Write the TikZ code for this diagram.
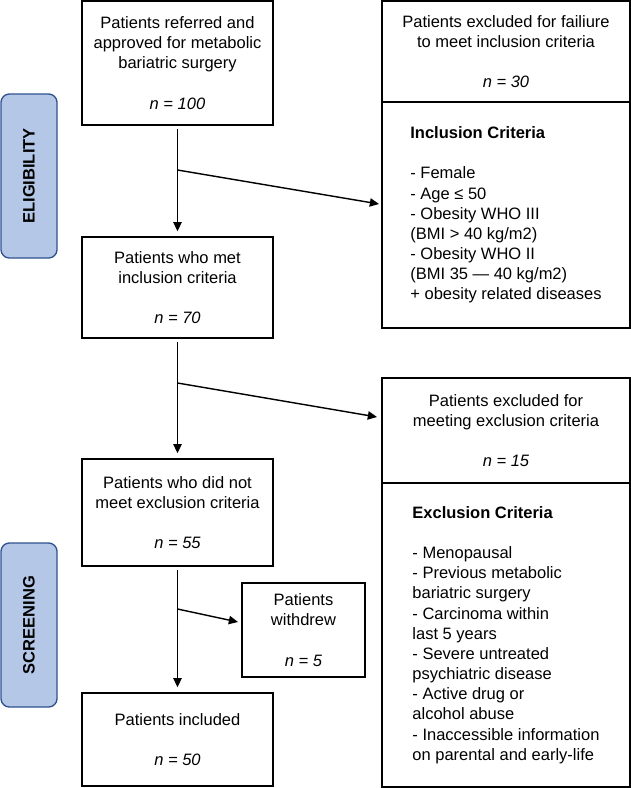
\documentclass[tikz,border=0pt]{standalone}
\usepackage{fontspec}
\setmainfont{Liberation Sans}
\usetikzlibrary{arrows.meta}
\definecolor{phasefill}{RGB}{180,199,231}
\definecolor{phaseline}{RGB}{47,82,143}

\begin{document}
\begin{tikzpicture}[x=0.6pt, y=-0.6pt]
	\tikzstyle{Box} = [draw, line width=0.85pt, inner sep=0pt, align=center, font=\fontsize{9.9}{12.1}\selectfont]
	\tikzstyle{Phase} = [draw=phaseline, fill=phasefill, rounded corners=5pt, line width=0.8pt, minimum width=98.4pt, minimum height=33.6pt, rotate=90, font=\bfseries\fontsize{9.9}{12}\selectfont]
	\tikzstyle{Flow} = [line width=0.85pt, -{Triangle[length=5.5pt, width=5pt]}]
	\useasboundingbox (0,0) rectangle (631,788);
	% phases
	\node (elig) at (29,176) [Phase] {ELIGIBILITY};
	\node (scr) at (29,625) [Phase] {SCREENING};
	% main column
	\node (ref) at (177.5,63) [Box, minimum width=114.6pt, minimum height=74.4pt] {Patients referred and\\approved for metabolic\\bariatric surgery\\[12.1pt]\textit{n = 100}};
	\node (met) at (177.5,287.5) [Box, minimum width=114.6pt, minimum height=60.6pt] {Patients who met\\inclusion criteria\\[12.1pt]\textit{n = 70}};
	\node (notexcl) at (177.5,512.5) [Box, minimum width=114.6pt, minimum height=64.2pt] {Patients who did not\\meet exclusion criteria\\[12.1pt]\textit{n = 55}};
	\node (incl) at (177.5,739.5) [Box, minimum width=114.6pt, minimum height=55.8pt] {Patients included\\[12.1pt]\textit{n = 50}};
	% side column
	\node (fail) at (506,51.5) [Box, minimum width=148.8pt, minimum height=60.6pt] {Patients excluded for failiure\\to meet inclusion criteria\\[12.1pt]\textit{n = 30}};
	\node (inccrit) at (506,215) [Box, align=left, minimum width=148.8pt, minimum height=135.6pt] {\textbf{Inclusion Criteria}\\[12pt]- Female\\- Age ≤ 50\\- Obesity WHO III\\(BMI > 40 kg/m2)\\- Obesity WHO II\\(BMI 35 — 40 kg/m2)\\+ obesity related diseases};
	\node (excl) at (506,430.5) [Box, minimum width=148.8pt, minimum height=63pt] {Patients excluded for\\meeting exclusion criteria\\[12.1pt]\textit{n = 15}};
	\node (exccrit) at (506,635) [Box, align=left, minimum width=148.8pt, minimum height=182.4pt] {\textbf{Exclusion Criteria}\\[12pt]- Menopausal\\- Previous metabolic\\bariatric surgery\\- Carcinoma within\\last 5 years\\- Severe untreated\\psychiatric disease\\- Active drug or\\alcohol abuse\\- Inaccessible information\\on parental and early-life};
	\node (withdrew) at (303.5,630) [Box, minimum width=73.8pt, minimum height=56.4pt] {Patients\\withdrew\\[12.1pt]\textit{n = 5}};
	% branch points
	\coordinate (b1) at (177.5,170);
	\coordinate (e1) at (379,204);
	\coordinate (b2) at (177.5,383);
	\coordinate (e2) at (377,417);
	\coordinate (b3) at (177.5,609);
	\coordinate (e3) at (238,622);
	% connectors
	\draw [Flow, shorten <=2pt, shorten >=3pt] (ref) to (met);
	\draw [Flow, shorten <=2pt, shorten >=3pt] (met) to (notexcl);
	\draw [Flow, shorten <=2pt, shorten >=3pt] (notexcl) to (incl);
	\draw [Flow] (b1) to (e1);
	\draw [Flow] (b2) to (e2);
	\draw [Flow] (b3) to (e3);
\end{tikzpicture}
\end{document}
